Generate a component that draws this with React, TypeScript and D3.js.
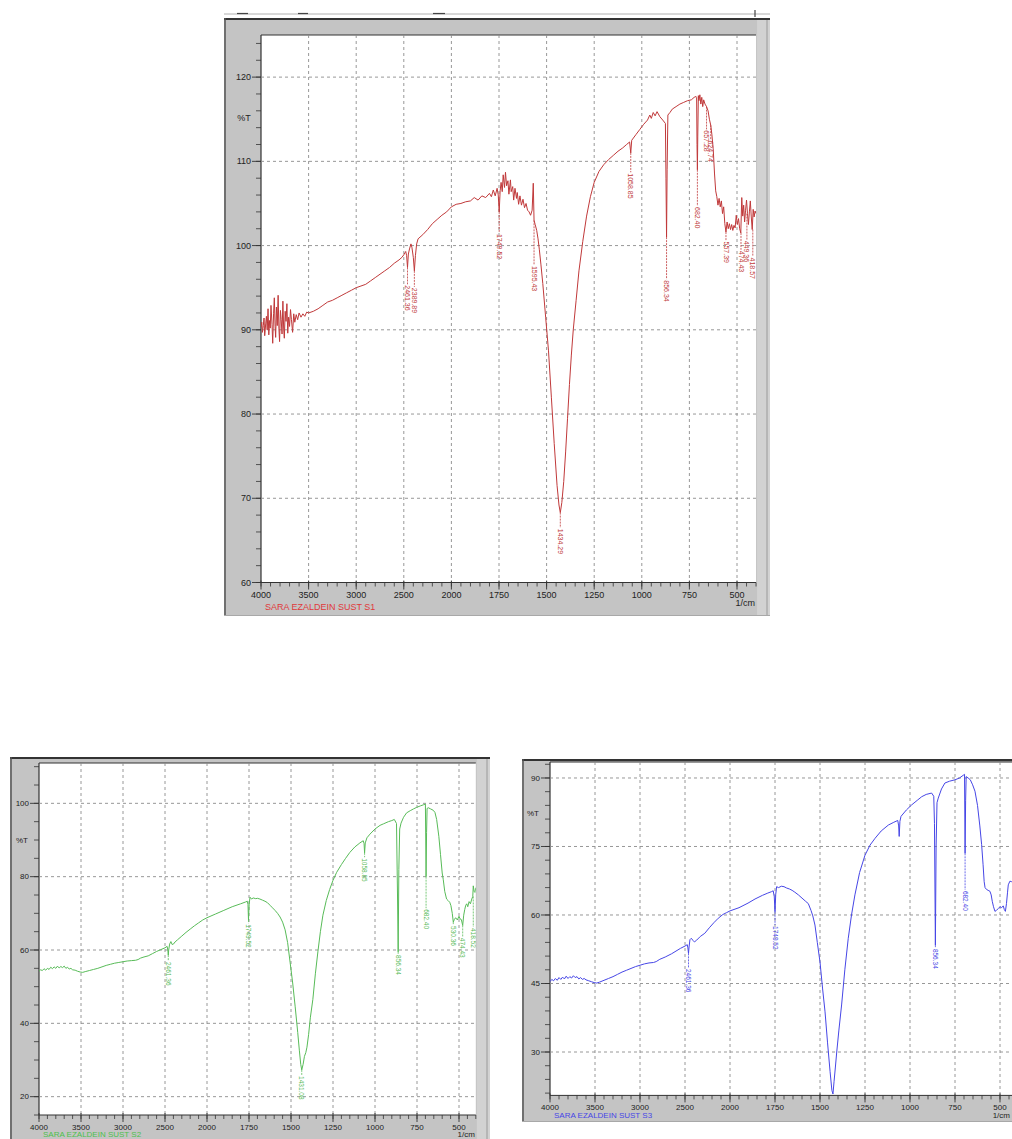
import React from 'react';
import * as d3 from 'd3';

type Pt = [number, number];
type Peak = { wn: number; text: string; dip: number; start: number };

// ---------- S1 (red) ----------
const s1Spectrum: Pt[] = [
  [4000, 90.3], [3992, 90.9], [3985, 89.7], [3976, 90.5], [3968, 91.4], [3961, 89.3], [3950, 90.8], [3943, 91.6],
  [3935, 90.0], [3926, 92.5], [3918, 89.4], [3910, 91.1], [3903, 90.2], [3895, 92.9], [3884, 90.6], [3877, 88.4],
  [3868, 91.9], [3860, 93.8], [3852, 90.4], [3846, 89.1], [3838, 92.7], [3829, 90.5], [3820, 94.1], [3812, 90.2],
  [3805, 88.6], [3796, 92.3], [3788, 91.2], [3779, 89.5], [3770, 93.4], [3762, 90.1], [3755, 89.0], [3746, 92.2],
  [3737, 91.0], [3728, 93.1], [3719, 89.6], [3710, 91.5], [3700, 90.4], [3690, 92.4], [3680, 91.2], [3668, 89.7],
  [3656, 91.9], [3645, 90.9], [3630, 91.8], [3615, 91.2], [3600, 92.0], [3580, 91.5], [3560, 91.9], [3540, 91.6],
  [3520, 92.1], [3500, 92.0], [3450, 92.2], [3400, 92.5],
  [3350, 92.9], [3300, 93.3], [3250, 93.5], [3200, 93.8], [3150, 94.1], [3100, 94.4], [3050, 94.7], [3000, 95.0],
  [2950, 95.2], [2900, 95.4], [2850, 95.8], [2800, 96.2], [2750, 96.6], [2700, 97.0], [2650, 97.4], [2600, 97.9],
  [2550, 98.3], [2520, 98.6], [2500, 98.9], [2480, 99.3], [2470, 98.8], [2461, 97.4], [2452, 99.0], [2440, 99.6],
  [2425, 100.2], [2415, 99.8], [2400, 98.6], [2389, 97.0], [2378, 98.8], [2365, 100.2], [2350, 100.8], [2300, 101.3],
  [2250, 101.9], [2200, 102.6], [2150, 103.1], [2100, 103.6], [2050, 104.0], [2000, 104.6], [1975, 104.9],
  [1950, 105.0], [1925, 105.2], [1900, 105.3], [1880, 105.7], [1860, 105.4], [1840, 105.9], [1820, 105.7],
  [1800, 106.2], [1790, 105.8], [1780, 106.6], [1770, 105.9], [1760, 106.8], [1754, 106.0], [1749, 104.0],
  [1744, 106.5], [1739, 107.5], [1733, 106.4], [1728, 108.4], [1721, 106.9], [1716, 108.7], [1710, 107.1],
  [1703, 107.7], [1698, 106.1], [1690, 107.8], [1686, 106.4], [1678, 107.0], [1673, 105.4], [1666, 106.8],
  [1658, 105.6], [1654, 106.3], [1647, 104.9], [1640, 105.9], [1632, 104.8], [1624, 105.5], [1616, 104.5],
  [1608, 105.0], [1600, 104.2], [1592, 104.0], [1584, 103.6], [1576, 104.2], [1570, 107.4], [1566, 103.0],
  [1560, 102.5], [1552, 101.8], [1545, 100.8], [1538, 99.5], [1530, 97.8], [1520, 95.5], [1505, 91.5],
  [1490, 87.5], [1475, 82.0], [1460, 76.5], [1445, 71.5], [1435, 69.2], [1428, 68.3], [1420, 69.5], [1410, 72.0],
  [1400, 75.5], [1390, 79.5], [1380, 83.5], [1370, 87.0], [1360, 90.0], [1345, 93.5], [1330, 97.0], [1310, 100.5],
  [1290, 103.5], [1270, 105.8], [1250, 107.5], [1225, 108.8], [1200, 109.6], [1175, 110.2], [1150, 110.7],
  [1125, 111.2], [1100, 111.6], [1080, 112.0], [1064, 112.3], [1058, 111.0], [1053, 112.5], [1030, 113.2],
  [1010, 113.8], [990, 114.4], [970, 114.9], [958, 115.5], [950, 115.1], [940, 115.8], [930, 115.4], [920, 115.9],
  [905, 115.3], [890, 114.9], [876, 114.5], [873, 108.0], [870, 101.0], [867, 109.0], [863, 115.5], [852, 115.8],
  [840, 116.2], [820, 116.5], [800, 116.8], [780, 117.0], [760, 117.2], [740, 117.3], [725, 117.6], [715, 117.7],
  [712, 117.6], [710, 112.0], [708, 109.0], [706, 113.0], [703, 117.8], [700, 117.2], [695, 117.9], [690, 116.8],
  [685, 117.6], [680, 116.5], [675, 117.3], [668, 116.8], [660, 116.5], [652, 116.0], [645, 115.0], [638, 114.3],
  [632, 113.2], [625, 111.5], [618, 108.5], [612, 106.5], [606, 105.8], [600, 104.8], [594, 105.6], [588, 104.6],
  [582, 105.3], [576, 103.8], [570, 104.6], [564, 102.6], [558, 101.6], [552, 102.8], [546, 102.0], [540, 102.6],
  [534, 101.9], [528, 102.5], [522, 101.8], [516, 102.4], [510, 102.1], [504, 103.6], [498, 102.5], [492, 103.2],
  [486, 102.0], [480, 101.5], [475, 105.7], [470, 103.5], [465, 104.8], [460, 102.8], [455, 104.2], [450, 105.4],
  [445, 103.8], [440, 102.5], [435, 104.0], [430, 105.3], [425, 103.4], [420, 101.9], [415, 104.3], [410, 103.4],
  [405, 104.1], [400, 103.8],
];
const s1Peaks: Peak[] = [
  { wn: 2461, text: '2461.36', dip: 97.4, start: 95.4 },
  { wn: 2389, text: '2389.89', dip: 97.0, start: 95.1 },
  { wn: 1749, text: '1749.52', dip: 104.0, start: 101.5 },
  { wn: 1566, text: '1595.43', dip: 103.0, start: 97.7 },
  { wn: 1428, text: '1434.29', dip: 68.3, start: 66.5 },
  { wn: 1058, text: '1058.85', dip: 111.0, start: 108.7 },
  { wn: 870, text: '856.34', dip: 101.0, start: 96.0 },
  { wn: 708, text: '682.40', dip: 109.0, start: 104.7 },
  { wn: 660, text: '657.28', dip: 116.5, start: 113.8 },
  { wn: 638, text: '624.74', dip: 114.3, start: 112.6 },
  { wn: 558, text: '557.39', dip: 101.6, start: 100.6 },
  { wn: 479, text: '474.43', dip: 101.5, start: 99.5 },
  { wn: 448, text: '449.36', dip: 103.8, start: 100.7 },
  { wn: 417, text: '418.57', dip: 101.9, start: 98.7 },
];

// ---------- S2 (green) ----------
const s2Spectrum: Pt[] = [
  [4000, 54.2], [3980, 54.6], [3960, 54.4], [3940, 54.9], [3920, 54.5], [3900, 55.0], [3880, 54.7], [3860, 55.3],
  [3840, 54.9], [3820, 55.4], [3800, 55.0], [3780, 55.6], [3760, 55.1], [3740, 55.5], [3720, 55.2], [3700, 55.6],
  [3680, 55.0], [3660, 55.3], [3640, 54.8], [3620, 55.0], [3600, 54.6], [3570, 54.5], [3540, 54.2], [3510, 54.0],
  [3480, 53.9], [3450, 54.1], [3400, 54.4], [3350, 54.7], [3300, 55.0], [3250, 55.4], [3200, 55.8], [3150, 56.1],
  [3100, 56.4], [3050, 56.6], [3000, 56.8], [2950, 57.0], [2900, 57.1], [2850, 57.2], [2820, 57.4], [2790, 57.8],
  [2750, 58.1], [2700, 58.4], [2650, 59.0], [2600, 59.6], [2550, 60.1], [2500, 60.6], [2475, 61.0], [2466, 60.0],
  [2461, 58.6], [2456, 60.0], [2445, 61.6], [2430, 62.3], [2415, 61.5], [2400, 61.6], [2380, 62.2], [2350, 62.8],
  [2300, 63.8], [2250, 64.8], [2200, 65.7], [2150, 66.6], [2100, 67.4], [2050, 68.2], [2000, 68.8], [1950, 69.8],
  [1900, 70.8], [1850, 71.8], [1800, 72.6], [1770, 73.1], [1760, 73.3], [1756, 72.4], [1753, 68.2], [1749, 72.5],
  [1744, 74.4], [1735, 73.9], [1725, 74.2], [1710, 74.0], [1700, 74.1], [1685, 73.9], [1670, 73.6], [1655, 73.3],
  [1640, 72.9], [1625, 72.2], [1610, 71.5], [1595, 70.8], [1580, 70.0], [1565, 69.0], [1550, 67.6], [1535, 65.5],
  [1520, 62.0], [1505, 56.5], [1490, 51.0], [1475, 44.5], [1460, 37.5], [1450, 32.5], [1442, 28.8], [1436, 27.3],
  [1428, 28.8], [1420, 31.0], [1412, 32.0], [1405, 33.5], [1395, 37.0], [1385, 41.5], [1370, 46.5], [1355, 53.5],
  [1340, 59.5], [1325, 65.0], [1310, 69.5], [1290, 73.5], [1270, 76.5], [1250, 79.0], [1228, 81.2], [1200, 83.3],
  [1175, 85.0], [1150, 86.6], [1120, 88.1], [1090, 89.2], [1070, 89.8], [1065, 89.0], [1062, 86.5], [1058, 89.2],
  [1048, 90.6], [1030, 91.6], [1000, 93.0], [970, 94.0], [950, 94.4], [920, 95.0], [900, 95.3], [885, 95.6],
  [872, 94.5], [866, 75.0], [862, 59.5], [858, 82.0], [853, 93.0], [845, 94.6], [830, 96.2], [812, 97.4],
  [790, 98.0], [770, 98.5], [752, 98.9], [730, 99.3], [712, 99.6], [700, 99.8], [698, 90.0], [696, 80.0],
  [693, 92.0], [690, 98.6], [683, 98.8], [670, 98.5], [653, 98.1], [643, 97.5], [633, 95.6], [620, 91.0],
  [610, 86.0], [600, 81.0], [594, 79.3], [585, 76.0], [574, 73.9], [565, 73.5], [555, 73.0], [548, 72.1],
  [540, 70.0], [534, 67.6], [528, 68.3], [520, 68.8], [510, 68.2], [500, 69.2], [494, 68.5], [486, 68.3],
  [478, 66.7], [472, 69.5], [466, 71.0], [460, 72.2], [454, 72.6], [448, 71.8], [440, 73.2], [432, 72.6],
  [424, 73.9], [418, 74.6], [415, 77.5], [410, 76.0], [405, 75.7], [400, 77.0],
];
const s2Peaks: Peak[] = [
  { wn: 2461, text: '2461.36', dip: 58.6, start: 57.0 },
  { wn: 1753, text: '1749.52', dip: 68.2, start: 67.3 },
  { wn: 1436, text: '1431.08', dip: 27.3, start: 25.9 },
  { wn: 1062, text: '1058.85', dip: 86.5, start: 85.3 },
  { wn: 862, text: '856.34', dip: 59.5, start: 58.9 },
  { wn: 696, text: '682.40', dip: 80.0, start: 71.4 },
  { wn: 534, text: '530.36', dip: 67.6, start: 66.8 },
  { wn: 478, text: '474.43', dip: 66.7, start: 63.6 },
  { wn: 415, text: '418.52', dip: 74.6, start: 66.3 },
];

// ---------- S3 (blue) ----------
const s3Spectrum: Pt[] = [
  [4000, 45.4], [3980, 45.9], [3960, 45.6], [3940, 46.1], [3920, 45.7], [3900, 46.3], [3880, 45.9], [3860, 46.4],
  [3840, 46.0], [3820, 46.6], [3800, 46.1], [3780, 46.5], [3760, 46.2], [3740, 46.7], [3720, 46.3], [3700, 46.5],
  [3680, 46.0], [3660, 46.3], [3640, 45.9], [3620, 46.1], [3600, 45.8], [3570, 45.6], [3540, 45.4], [3510, 45.2],
  [3480, 45.1], [3450, 45.3], [3400, 45.7], [3350, 46.1], [3300, 46.5], [3250, 47.0], [3200, 47.5], [3150, 47.9],
  [3100, 48.3], [3050, 48.7], [3000, 49.0], [2950, 49.3], [2900, 49.5], [2850, 49.6], [2820, 49.8], [2780, 50.3],
  [2720, 50.8], [2650, 51.5], [2600, 52.1], [2550, 52.7], [2500, 53.2], [2475, 53.5], [2468, 52.8], [2461, 51.6],
  [2455, 53.0], [2445, 54.6], [2430, 54.9], [2410, 54.4], [2395, 54.1], [2370, 54.5], [2330, 55.3], [2280, 56.0],
  [2230, 57.2], [2180, 58.3], [2130, 59.3], [2080, 60.1], [2040, 60.5], [2000, 60.9], [1950, 61.6], [1900, 62.6],
  [1861, 63.5], [1820, 64.3], [1790, 64.8], [1770, 65.1], [1760, 65.3], [1754, 64.0], [1750, 60.7], [1746, 64.5],
  [1741, 66.2], [1730, 66.0], [1715, 66.3], [1700, 66.2], [1685, 65.9], [1670, 65.7], [1655, 65.4], [1640, 65.0],
  [1620, 64.4], [1600, 63.7], [1580, 63.0], [1565, 62.5], [1550, 61.0], [1540, 59.8], [1528, 57.8], [1515, 54.0],
  [1500, 49.7], [1486, 44.0], [1472, 38.8], [1458, 32.0], [1444, 25.7], [1434, 21.6], [1428, 20.8], [1422, 23.5],
  [1415, 26.5], [1407, 30.0], [1395, 34.8], [1380, 40.3], [1362, 48.0], [1343, 54.9], [1325, 60.0], [1306, 64.4],
  [1280, 69.3], [1250, 73.1], [1222, 75.3], [1194, 76.8], [1160, 78.4], [1120, 79.7], [1090, 80.3], [1068, 80.7],
  [1063, 79.5], [1060, 77.2], [1056, 80.5], [1050, 81.6], [1020, 83.0], [991, 84.1], [960, 85.1], [935, 85.9],
  [910, 86.4], [880, 86.7], [868, 86.0], [864, 80.0], [859, 53.4], [855, 75.0], [850, 84.6], [843, 85.6],
  [825, 87.6], [806, 88.9], [780, 89.3], [750, 89.6], [725, 90.0], [704, 90.6], [697, 90.8], [694, 73.5],
  [691, 85.0], [688, 90.3], [677, 90.0], [665, 89.6], [652, 88.5], [639, 87.1], [625, 84.0], [612, 79.5],
  [602, 75.4], [594, 71.0], [588, 67.3], [583, 66.0], [575, 65.6], [566, 65.4], [556, 65.2], [549, 64.4],
  [543, 63.0], [536, 61.8], [528, 60.8], [520, 61.0], [510, 61.4], [500, 61.8], [491, 61.6], [482, 62.0],
  [476, 61.2], [470, 60.8], [464, 62.5], [458, 65.0], [454, 66.6], [445, 67.4], [435, 67.3], [420, 67.8],
  [400, 68.0],
];
const s3Peaks: Peak[] = [
  { wn: 2461, text: '2461.36', dip: 51.6, start: 48.4 },
  { wn: 1750, text: '1749.52', dip: 60.7, start: 57.8 },
  { wn: 859, text: '856.34', dip: 53.4, start: 52.8 },
  { wn: 694, text: '682.40', dip: 73.5, start: 65.5 },
];

const xMajorTicks = [4000, 3500, 3000, 2500, 2000, 1750, 1500, 1250, 1000, 750, 500];
const xMinorTicks = [...d3.range(4000, 2000, -100), ...d3.range(2000, 399, -50)];

type Cfg = {
  id: string;
  frame: { x: number; y: number; w: number; h: number };
  x0: number;
  step: number;
  top: number;
  bottom: number;
  yDomain: [number, number];
  yMajor: number[];
  yMinorStep: number;
  tPos: number;
  fontSize: number;
  peakFont: number;
  labelDy: number;
  nameDy: number;
  unitDy: number;
};

function Spectrum({ cfg, data, peaks, color, labelColor, nameColor, name }: {
  cfg: Cfg; data: Pt[]; peaks: Peak[]; color: string; labelColor: string; nameColor: string; name: string;
}) {
  const x = d3.scaleLinear().domain([4000, 2000, 400]).range([cfg.x0, cfg.x0 + 4 * cfg.step, cfg.x0 + 10.4 * cfg.step]);
  const y = d3.scaleLinear().domain(cfg.yDomain).range([cfg.bottom, cfg.top]);
  const left = x(4000);
  const right = x(400);
  const line = d3.line<Pt>().x(d => x(d[0])).y(d => y(d[1]));
  const yMinor = d3.range(Math.ceil(cfg.yDomain[0] / cfg.yMinorStep) * cfg.yMinorStep, cfg.yDomain[1] + 0.01, cfg.yMinorStep);
  const f = cfg.frame;
  const fs = cfg.fontSize;
  const font = "'Liberation Sans Narrow', 'Liberation Sans', Arial, sans-serif";
  const unitX = Math.min(right - 1, 1010);
  return (
    <g>
      <rect x={f.x} y={f.y} width={f.w} height={f.h} fill="#c4c4c4" />
      <rect x={right + 1} y={f.y} width={Math.max(0, f.x + f.w - right - 1)} height={f.h} fill="#d2d2d2" />
      <line x1={f.x + f.w - 3} x2={f.x + f.w - 3} y1={f.y} y2={f.y + f.h} stroke="#9a9a9a" strokeWidth={1} />
      <line x1={f.x} x2={f.x + f.w} y1={f.y + 1} y2={f.y + 1} stroke="#333" strokeWidth={2} />
      <line x1={f.x + 1} x2={f.x + 1} y1={f.y} y2={f.y + f.h} stroke="#555" strokeWidth={1.5} />
      <line x1={f.x} x2={f.x + f.w} y1={f.y + f.h - 0.5} y2={f.y + f.h - 0.5} stroke="#a8a8a8" strokeWidth={1} />
      <rect x={left} y={cfg.top} width={right - left} height={cfg.bottom - cfg.top} fill="#ffffff" />
      <line x1={left} x2={right} y1={cfg.top} y2={cfg.top} stroke="#333" strokeWidth={1.2} />
      <line x1={left} x2={left} y1={cfg.top} y2={cfg.bottom} stroke="#333" strokeWidth={1.2} />
      {xMajorTicks.filter(t => t !== 4000).map(t => (
        <line key={'gx' + t} x1={x(t)} x2={x(t)} y1={cfg.top} y2={cfg.bottom} stroke="#8c8c8c" strokeWidth={0.9} strokeDasharray="3,3" />
      ))}
      {cfg.yMajor.map(t => (
        <line key={'gy' + t} x1={left} x2={right} y1={y(t)} y2={y(t)} stroke="#8c8c8c" strokeWidth={0.9} strokeDasharray="3,3" />
      ))}
      {yMinor.map(t => (
        <line key={'ym' + t} x1={left - 5} x2={left} y1={y(t)} y2={y(t)} stroke="#333" strokeWidth={0.8} />
      ))}
      {cfg.yMajor.map(t => (
        <g key={'yM' + t}>
          <line x1={left - 9} x2={left} y1={y(t)} y2={y(t)} stroke="#333" strokeWidth={0.9} />
          <text x={left - 10} y={y(t)} dy="0.35em" textAnchor="end" fontSize={fs} fontFamily={font} fill="#222">{t}</text>
        </g>
      ))}
      <text x={left - 17} y={y(cfg.tPos)} dy="0.35em" textAnchor="middle" fontSize={fs} fontFamily={font} fill="#222">%T</text>
      <line x1={left} x2={right} y1={cfg.bottom} y2={cfg.bottom} stroke="#333" strokeWidth={1} />
      {xMinorTicks.map(t => (
        <line key={'xm' + t} x1={x(t)} x2={x(t)} y1={cfg.bottom} y2={cfg.bottom + 4} stroke="#333" strokeWidth={0.8} />
      ))}
      {xMajorTicks.map(t => (
        <g key={'xM' + t}>
          <line x1={x(t)} x2={x(t)} y1={cfg.bottom - 2} y2={cfg.bottom + 7} stroke="#333" strokeWidth={0.9} />
          <text x={x(t)} y={cfg.bottom + cfg.labelDy} textAnchor="middle" fontSize={fs} fontFamily={font} fill="#222">{t}</text>
        </g>
      ))}
      <text x={unitX} y={cfg.bottom + cfg.unitDy} textAnchor="end" fontSize={fs} fontFamily={font} fill="#222">1/cm</text>
      <text x={left + 4} y={cfg.bottom + cfg.nameDy} fontSize={fs} fontFamily={font} fill={nameColor}>{name}</text>
      <clipPath id={'clip' + cfg.id}>
        <rect x={left} y={cfg.top} width={right - left} height={cfg.bottom - cfg.top} />
      </clipPath>
      <g clipPath={`url(#clip${cfg.id})`}>
        <path d={line(data) || ''} fill="none" stroke={color} strokeWidth={1} strokeLinejoin="round" />
        {peaks.map(p => (
          <g key={'pk' + p.wn}>
            <line x1={x(p.wn)} x2={x(p.wn)} y1={y(p.dip)} y2={y(p.start)} stroke={color} strokeWidth={0.8} strokeDasharray="2,1" />
            <text transform={`translate(${x(p.wn)},${y(p.start) + 1}) rotate(90)`} dy="0.35em" fontSize={cfg.peakFont} fontFamily={font} fill={labelColor}>{p.text}</text>
          </g>
        ))}
      </g>
    </g>
  );
}

const cfg1: Cfg = {
  id: 's1', frame: { x: 224, y: 18, w: 546, h: 598 }, x0: 261, step: 47.6, top: 35, bottom: 582.5,
  yDomain: [60, 125], yMajor: [60, 70, 80, 90, 100, 110, 120], yMinorStep: 2, tPos: 115.2,
  fontSize: 9, peakFont: 7, labelDy: 15, nameDy: 27, unitDy: 23,
};
const cfg2: Cfg = {
  id: 's2', frame: { x: 10, y: 757, w: 480, h: 400 }, x0: 39, step: 42, top: 763, bottom: 1115,
  yDomain: [15, 111], yMajor: [20, 40, 60, 80, 100], yMinorStep: 5, tPos: 90,
  fontSize: 8, peakFont: 6.5, labelDy: 15, nameDy: 22, unitDy: 22,
};
const cfg3: Cfg = {
  id: 's3', frame: { x: 522, y: 759, w: 500, h: 363 }, x0: 550, step: 45, top: 762, bottom: 1095.4,
  yDomain: [20.5, 93.5], yMajor: [30, 45, 60, 75, 90], yMinorStep: 3, tPos: 82.3,
  fontSize: 8, peakFont: 6.5, labelDy: 15, nameDy: 23, unitDy: 23,
};

export default function App() {
  return (
    <svg width={1012} height={1139} style={{ position: 'absolute', left: 0, top: 0, background: '#ffffff' }}>
      <rect x={0} y={0} width={1012} height={1139} fill="#ffffff" />
      <line x1={224} x2={770} y1={14} y2={14} stroke="#b0b0b0" strokeWidth={1} />
      <line x1={237} x2={248} y1={13.5} y2={13.5} stroke="#444" strokeWidth={1.2} />
      <line x1={298} x2={308} y1={13.5} y2={13.5} stroke="#444" strokeWidth={1.2} />
      <line x1={433} x2={445} y1={13.5} y2={13.5} stroke="#444" strokeWidth={1.2} />
      <line x1={755} x2={755} y1={10} y2={17} stroke="#444" strokeWidth={1.2} />
      <Spectrum cfg={cfg1} data={s1Spectrum} peaks={s1Peaks} color="#c0393a" labelColor="#c0393a" nameColor="#e0393a" name="SARA  EZALDEIN SUST S1" />
      <Spectrum cfg={cfg2} data={s2Spectrum} peaks={s2Peaks} color="#58bb58" labelColor="#58bb58" nameColor="#4cc04c" name="SARA  EZALDEIN SUST S2" />
      <Spectrum cfg={cfg3} data={s3Spectrum} peaks={s3Peaks} color="#4646e6" labelColor="#4646e6" nameColor="#4646e6" name="SARA  EZALDEIN SUST S3" />
    </svg>
  );
}
